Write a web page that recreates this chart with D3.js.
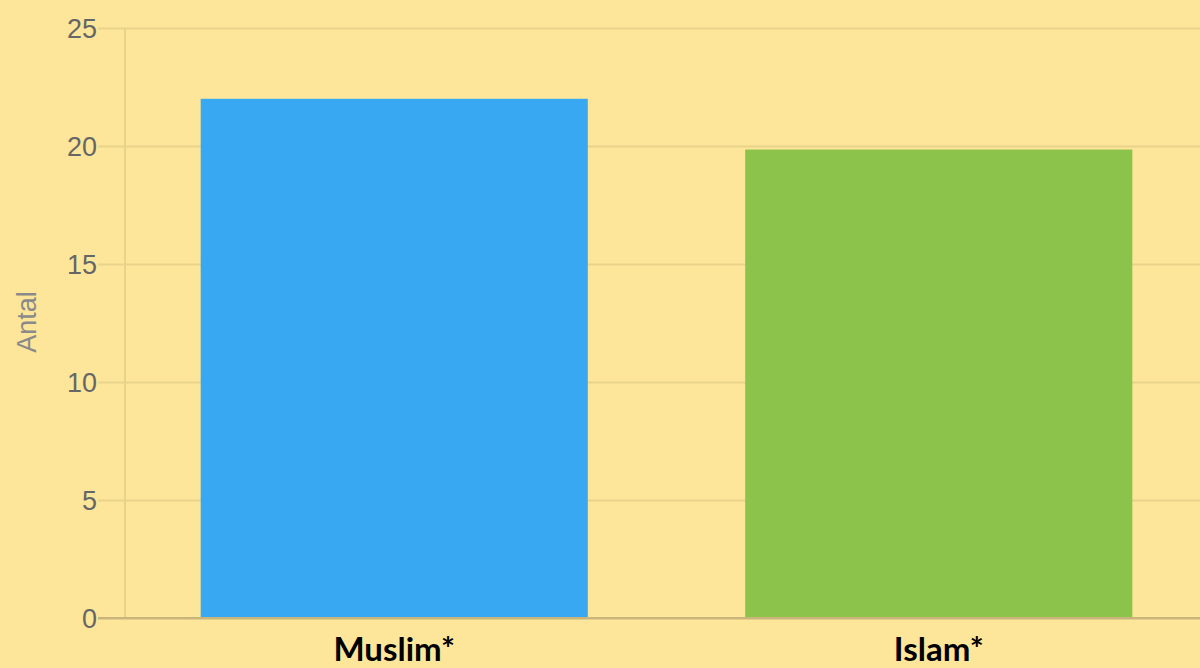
<!DOCTYPE html>
<html>
<head>
<meta charset="utf-8">
<script src="https://cdn.jsdelivr.net/npm/d3@7"></script>
<style>
  html, body { margin: 0; padding: 0; background: #fde699; }
  svg { display: block; }
</style>
</head>
<body>
<div class="chart"></div>
<script>
var categories = ["Muslim*", "Islam*"];
var values = [22, 19.85];
var barColors = ["#39a8f2", "#8bc34b"];
var yTicks = [0, 5, 10, 15, 20, 25];
var yLabel = "Antal";

var width = 1200, height = 668;

var svg = d3.select(".chart")
    .append("svg")
    .attr("width", width)
    .attr("height", height);

svg.append("rect")
    .attr("width", width)
    .attr("height", height)
    .attr("fill", "#fde699");

var x = d3.scaleBand()
    .domain(categories)
    .range([122, 1211])
    .paddingInner(0.289)
    .paddingOuter(0.1445);

var y = d3.scaleLinear()
    .domain([0, 25])
    .range([618, 28]);

// gridlines + tick marks (extend left of axis line)
var yAxis = svg.append("g")
    .attr("transform", "translate(1200,0)")
    .call(d3.axisLeft(y).tickValues(yTicks).tickSize(1102).tickFormat(""));
yAxis.select(".domain").remove();
yAxis.selectAll("line")
    .attr("stroke", function(d) { return d === 0 ? "#c9b57c" : "#e9d38b"; })
    .attr("stroke-width", 2);

// vertical axis line
svg.append("line")
    .attr("x1", 125).attr("x2", 125)
    .attr("y1", y(25)).attr("y2", y(0))
    .attr("stroke", "#e9d38b")
    .attr("stroke-width", 2);

// tick labels
svg.append("g")
    .selectAll("text")
    .data(yTicks)
    .enter()
    .append("text")
    .attr("x", 97)
    .attr("y", function(d) { return y(d); })
    .attr("dy", "0.36em")
    .attr("text-anchor", "end")
    .attr("font-family", "'Liberation Sans', Arial, sans-serif")
    .attr("font-size", "27px")
    .attr("fill", "#666666")
    .text(function(d) { return d; });

// bars
svg.append("g")
    .selectAll("rect")
    .data(values)
    .enter()
    .append("rect")
    .attr("x", function(d, i) { return x(categories[i]); })
    .attr("y", function(d) { return y(d); })
    .attr("width", x.bandwidth())
    .attr("height", function(d) { return y(0) - y(d); })
    .attr("fill", function(d, i) { return barColors[i]; });

// zero line on top of bars
svg.append("line")
    .attr("x1", 98).attr("x2", width)
    .attr("y1", y(0)).attr("y2", y(0))
    .attr("stroke", "#c9b57c")
    .attr("stroke-width", 2);

// category labels
var xAxis = svg.append("g")
    .attr("transform", "translate(0,619)")
    .call(d3.axisBottom(x).tickSize(0).tickPadding(0));
xAxis.select(".domain").remove();
xAxis.selectAll("text")
    .attr("y", 42)
    .attr("dy", 0)
    .attr("font-family", "Lato, 'Open Sans', sans-serif")
    .attr("font-weight", "bold")
    .attr("font-size", "33px")
    .attr("fill", "#000");

// y label
svg.append("text")
    .attr("transform", "translate(36,322) rotate(-90)")
    .attr("text-anchor", "middle")
    .attr("font-family", "'Liberation Sans', Arial, sans-serif")
    .attr("font-size", "27px")
    .attr("fill", "#8a8a8a")
    .text(yLabel);
</script>
</body>
</html>
